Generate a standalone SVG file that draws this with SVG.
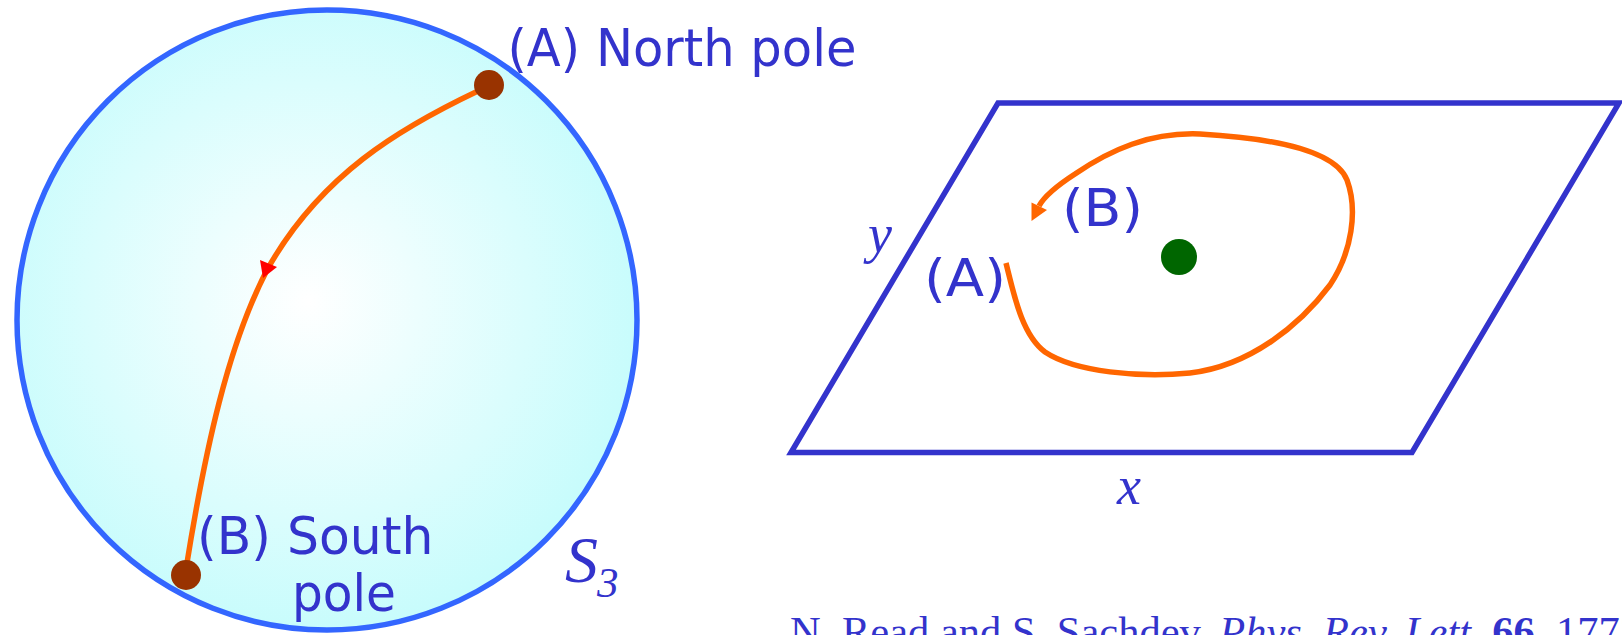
<svg xmlns="http://www.w3.org/2000/svg" width="1622" height="635" viewBox="0 0 1622 635">
<style>
.lbl{font-family:"DejaVu Sans","Verdana",sans-serif;font-size:51px;fill:#3333cc}
.mi{font-family:"Liberation Serif","Times New Roman",serif;font-style:italic;fill:#3333cc}
.cite{font-family:"Liberation Serif","Times New Roman",serif;font-size:42.5px;fill:#3333cc}
.path{fill:none;stroke:#ff6600;stroke-width:5.5;stroke-linecap:butt}
.pole{fill:#993300}
</style>
<defs>
<radialGradient id="sph" cx="0.47" cy="0.47" r="0.53">
<stop offset="0" stop-color="#ffffff"/>
<stop offset="1" stop-color="#c8fcfc"/>
</radialGradient>
</defs>
<g id="sphere">
<circle cx="327" cy="320" r="310" fill="url(#sph)" stroke="#3366ff" stroke-width="5.5"/>
<text class="mi" x="565" y="582" font-size="66">S</text>
<text class="mi" x="597" y="597" font-size="43" font-style="normal">3</text>
</g>
<g id="plane">
<polygon points="998,103 1619,103 1412,452.5 791,452.5" fill="#ffffff" stroke="#3333cc" stroke-width="5.5"/>
<text class="mi" x="868" y="252" font-size="54">y</text>
<text class="mi" x="1117" y="504" font-size="54">x</text>
</g>
<g id="vortex">
<circle cx="1179" cy="257" r="18" fill="#006600"/>
</g>
<g id="connectors">
<path class="path" d="M 478 91 C 400 128, 320 175, 267 270 C 228 345, 205 450, 186 569"/>
<polygon points="260,260 277,267 263,278" fill="#ff0000"/>
<path class="path" d="M 1006 263 C 1014 295, 1022 335, 1045 352 C 1075 372, 1140 378, 1190 373 C 1250 366, 1300 325, 1330 285 C 1352 252, 1358 210, 1347 180 C 1335 150, 1270 138, 1200 134 C 1150 132, 1110 150, 1075 174 C 1058 185, 1045 195, 1039 206"/>
<polygon points="1031.5,221 1031.5,202.5 1047,210" fill="#ff6600"/>
</g>
<g id="north">
<circle class="pole" cx="489" cy="85" r="15"/>
<text class="lbl" x="507.5" y="66" textLength="349" lengthAdjust="spacingAndGlyphs">(A) North pole</text>
</g>
<g id="south">
<circle class="pole" cx="186" cy="575" r="15"/>
<text class="lbl" x="197" y="554" textLength="236.5" lengthAdjust="spacingAndGlyphs">(B) South</text>
<text class="lbl" x="292" y="611" textLength="104" lengthAdjust="spacingAndGlyphs">pole</text>
</g>
<g id="labelA">
<text class="lbl" x="924" y="296" textLength="82" lengthAdjust="spacingAndGlyphs">(A)</text>
</g>
<g id="labelB">
<text class="lbl" x="1062" y="226" textLength="81" lengthAdjust="spacingAndGlyphs">(B)</text>
</g>
<g id="citation">
<text class="cite" x="790" y="646">N. Read and S. Sachdev, <tspan font-style="italic">Phys. Rev. Lett.</tspan> <tspan font-weight="bold">66</tspan>, 1773 (1991)</text>
</g>
</svg>
